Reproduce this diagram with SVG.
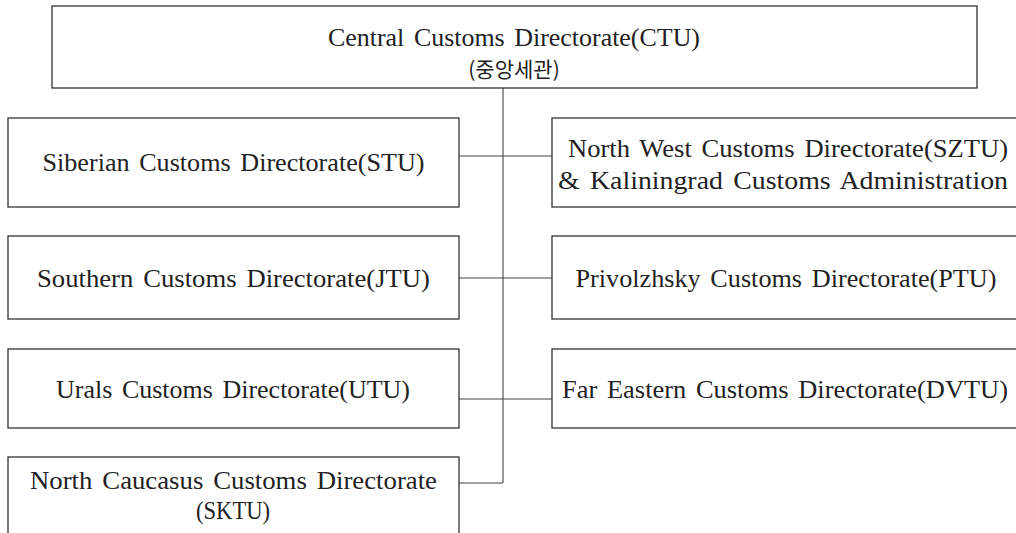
<svg xmlns="http://www.w3.org/2000/svg" width="1016" height="533" viewBox="0 0 1016 533">
<style>
.box{fill:#fff;stroke:#333;stroke-width:1.3}
.t{font-family:"Liberation Serif","Noto Sans CJK KR",serif;font-size:25px;word-spacing:3px;fill:#222;text-anchor:middle}
.k{font-family:"Noto Sans CJK KR",sans-serif;font-size:21px;fill:#222;text-anchor:middle}
.c{fill:none;stroke:#444;stroke-width:1.1}
</style>
<rect width="1016" height="533" fill="#fff"/>
<g id="connectors">
<line class="c" x1="503" y1="88" x2="503" y2="483"/>
<line class="c" x1="459" y1="156" x2="552" y2="156"/>
<line class="c" x1="459" y1="278" x2="552" y2="278"/>
<line class="c" x1="459" y1="399" x2="552" y2="399"/>
<line class="c" x1="459" y1="483" x2="503" y2="483"/>
</g>
<g id="ctu">
<rect class="box" x="52" y="6" width="925" height="82"/>
<text class="t" x="514" y="46" textLength="372" lengthAdjust="spacingAndGlyphs">Central Customs Directorate(CTU)</text>
<text class="k" x="514" y="77">(중앙세관)</text>
</g>
<g id="stu">
<rect class="box" x="8" y="118" width="451" height="89"/>
<text class="t" x="233.5" y="171" textLength="382" lengthAdjust="spacingAndGlyphs">Siberian Customs Directorate(STU)</text>
</g>
<g id="sztu">
<rect class="box" x="552" y="118" width="466" height="89"/>
<text class="t" x="788" y="157" textLength="440" lengthAdjust="spacingAndGlyphs">North West Customs Directorate(SZTU)</text>
<text class="t" x="783" y="189" textLength="450" lengthAdjust="spacingAndGlyphs">&amp; Kaliningrad Customs Administration</text>
</g>
<g id="jtu">
<rect class="box" x="8" y="236" width="451" height="83"/>
<text class="t" x="233.5" y="287" textLength="393" lengthAdjust="spacingAndGlyphs">Southern Customs Directorate(JTU)</text>
</g>
<g id="ptu">
<rect class="box" x="552" y="236" width="466" height="83"/>
<text class="t" x="786" y="287" textLength="421" lengthAdjust="spacingAndGlyphs">Privolzhsky Customs Directorate(PTU)</text>
</g>
<g id="utu">
<rect class="box" x="8" y="349" width="451" height="79"/>
<text class="t" x="233" y="398" textLength="354" lengthAdjust="spacingAndGlyphs">Urals Customs Directorate(UTU)</text>
</g>
<g id="dvtu">
<rect class="box" x="552" y="349" width="466" height="79"/>
<text class="t" x="785" y="398" textLength="446" lengthAdjust="spacingAndGlyphs">Far Eastern Customs Directorate(DVTU)</text>
</g>
<g id="sktu">
<rect class="box" x="8" y="457" width="451" height="90"/>
<text class="t" x="233.5" y="489" textLength="407" lengthAdjust="spacingAndGlyphs">North Caucasus Customs Directorate</text>
<text class="t" x="233" y="519" textLength="74" lengthAdjust="spacingAndGlyphs">(SKTU)</text>
</g>
</svg>
